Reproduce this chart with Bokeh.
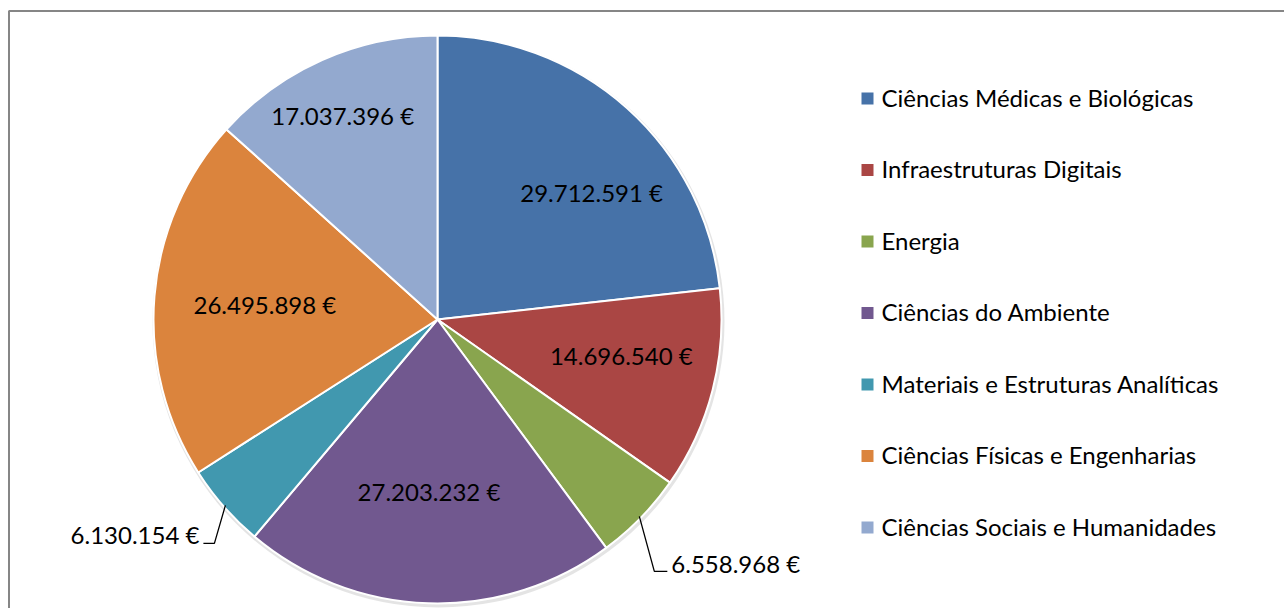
import numpy as np
from bokeh.plotting import figure
from bokeh.models import Range1d
from bokeh.core.properties import value
from bokeh.embed import file_html
from bokeh.resources import INLINE

# ---- data ----
categories = [
    "Ciências Médicas e Biológicas",
    "Infraestruturas Digitais",
    "Energia",
    "Ciências do Ambiente",
    "Materiais e Estruturas Analíticas",
    "Ciências Físicas e Engenharias",
    "Ciências Sociais e Humanidades",
]
amounts = [29712591, 14696540, 6558968, 27203232, 6130154, 26495898, 17037396]
labels = ["29.712.591 €", "14.696.540 €", "6.558.968 €", "27.203.232 €",
          "6.130.154 €", "26.495.898 €", "17.037.396 €"]
colors = ["#4672A8", "#AA4644", "#89A54E", "#71588F", "#4198AF", "#DB843D", "#93A9CF"]

# ---- layout (pixels) ----
W, H = 1284, 608
CX, CY, R = 437, 289, 284
FONT = "Lato"
FS = "24px"
# label placement: (angle offset deg from slice middle, radius fraction) for inside labels
inside_adj = {0: (9, 0.70), 1: (-3, 0.66), 3: (1, 0.61), 5: (0, 0.61), 6: (-1, 0.79)}
# outside labels: elbow offset from the edge point (dx, dy), horizontal stub length
outside_adj = {2: (15, -55, 13), 4: (-11, -38, -11)}

p = figure(width=W, height=H, output_backend="svg", toolbar_location=None,
           x_range=Range1d(0, W), y_range=Range1d(0, H), min_border=0)
p.axis.visible = False
p.grid.visible = False
p.outline_line_color = None
p.background_fill_color = "white"

# chart border (extends past the window on right and bottom)
p.line(x=[8.5, 8.5, W + 50], y=[-50, H - 10.5, H - 10.5], line_color="#868686", line_width=2)

vals = np.array(amounts, dtype=float)
frac = vals / vals.sum()
cum = np.concatenate([[0], np.cumsum(frac)]) * 2 * np.pi
start = np.pi / 2 - cum[:-1]
end = np.pi / 2 - cum[1:]

# soft shadow ring
p.circle(x=[CX + 1], y=[CY - 2], radius=R + 2, fill_color="#d9d9d9", line_color=None, fill_alpha=0.7)
p.wedge(x=CX, y=CY, radius=R, start_angle=start, end_angle=end, direction="clock",
        fill_color=colors, line_color="white", line_width=2)

mid = (cum[:-1] + cum[1:]) / 2  # clockwise from top
for i, lab in enumerate(labels):
    if i in inside_adj:
        da, rf = inside_adj[i]
        a = mid[i] + np.deg2rad(da)
        x = CX + rf * R * np.sin(a)
        y = CY + rf * R * np.cos(a)
        p.text(x=[x], y=[y + 1], text=[lab], text_align="center", text_baseline="middle",
               text_font=value(FONT), text_font_size=FS, text_color="black")
    else:
        dx, dy, stub = outside_adj[i]
        a = mid[i]
        x0 = CX + (R - 2) * np.sin(a)
        y0 = CY + (R - 2) * np.cos(a)
        x1, y1 = x0 + dx, y0 + dy
        x2 = x1 + stub
        p.line(x=[x0, x1, x2], y=[y0, y1, y1], line_color="black", line_width=1.3)
        if stub > 0:
            p.text(x=[x2 + 4], y=[y1 + 8], text=[lab], text_align="left", text_baseline="middle",
                   text_font=value(FONT), text_font_size=FS, text_color="black")
        else:
            p.text(x=[x2 - 4], y=[y1 + 9], text=[lab], text_align="right", text_baseline="middle",
                   text_font=value(FONT), text_font_size=FS, text_color="black")

# legend drawn manually
LX, LY0, LDY = 867, 510, 71.5
ly = [LY0 - k * LDY for k in range(len(categories))]
p.scatter(x=[LX] * len(categories), y=ly, marker="square", size=12,
          fill_color=colors, line_color=None)
p.text(x=[LX + 14] * len(categories), y=[v + 1.5 for v in ly], text=categories, text_align="left",
       text_baseline="middle", text_font=value(FONT), text_font_size=FS, text_color="black")

open("out.html", "w").write(file_html(p, INLINE))
